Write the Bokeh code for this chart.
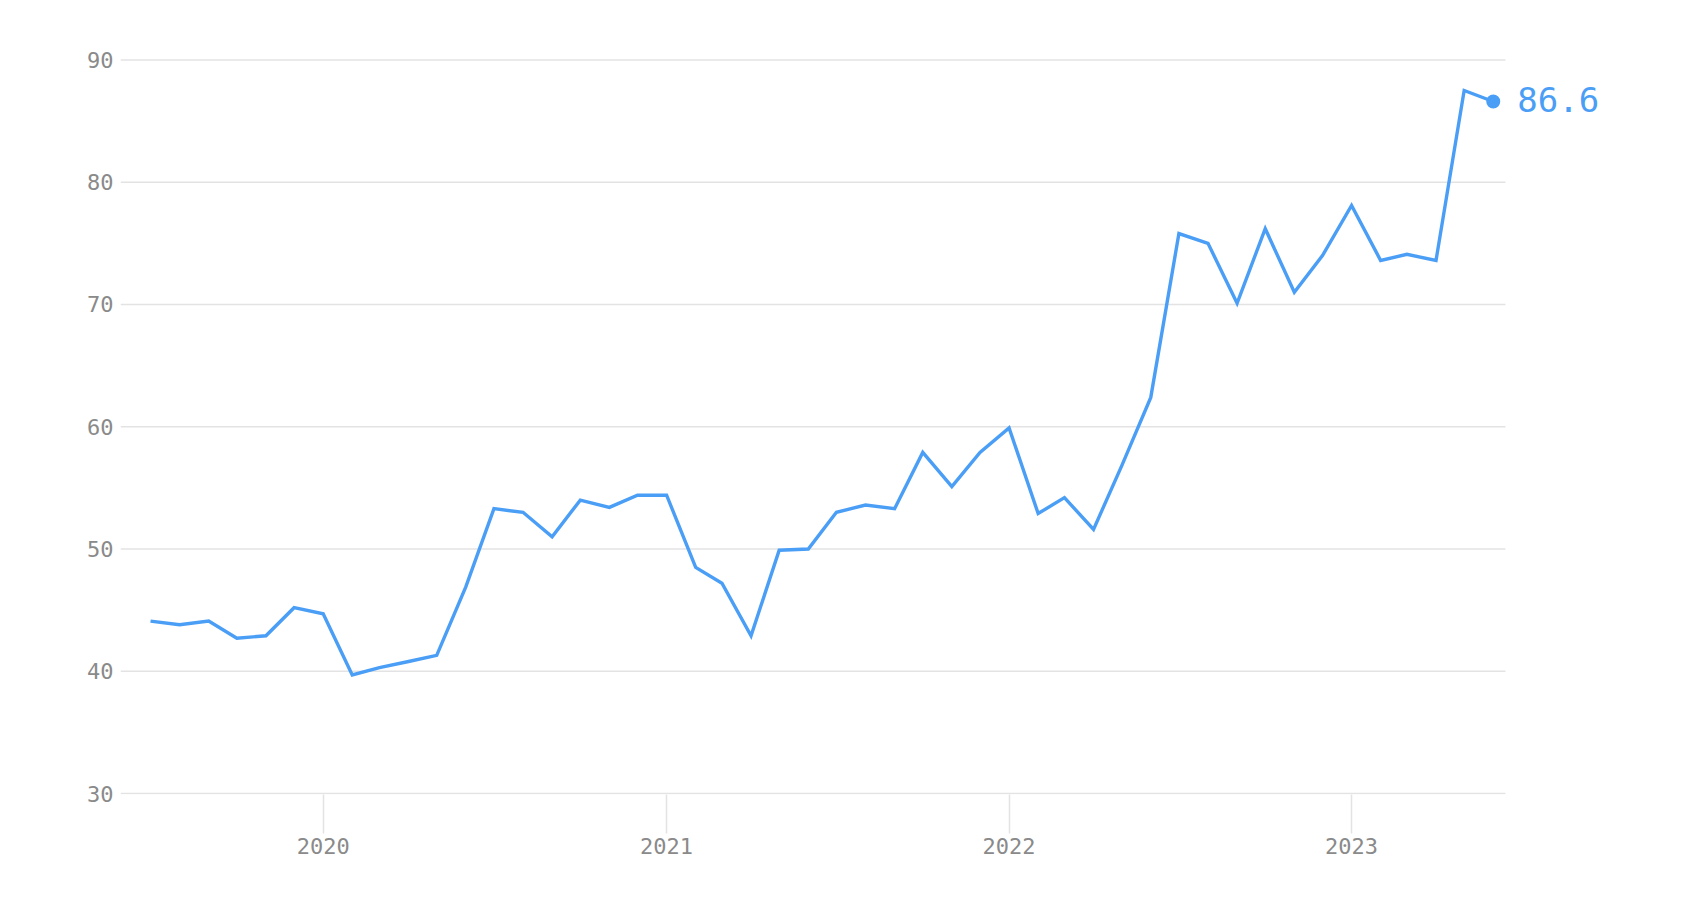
import pandas as pd
from bokeh.plotting import figure
from bokeh.models import Range1d, FixedTicker, ColumnDataSource, CustomJSTickFormatter
from bokeh.core.properties import value
from bokeh.embed import file_html
from bokeh.resources import INLINE

# ---- data ----
start_month = "2019-07-01"
values = [
    44.1, 43.8, 44.1, 42.7, 42.9, 45.2,
    44.7, 39.7, 40.3, 40.8, 41.3, 46.9, 53.3, 53.0, 51.0, 54.0, 53.4, 54.4,
    54.4, 48.5, 47.2, 42.9, 49.9, 50.0, 53.0, 53.6, 53.3, 57.9, 55.1, 57.9,
    59.9, 52.9, 54.2, 51.6, 56.8, 62.4, 75.8, 75.0, 70.1, 76.2, 71.0, 74.0,
    78.1, 73.6, 74.1, 73.6, 87.5, 86.6,
]
months = pd.date_range(start_month, periods=len(values), freq="MS")
tick_years = [2020, 2021, 2022, 2023]
y_ticks = [30, 40, 50, 60, 70, 80, 90]
last_label = "86.6"

x_start = pd.Timestamp("2019-05-30")
grid_end = pd.Timestamp("2023-06-14")
x_end = grid_end + pd.Timedelta(days=175.9)

LINE = "#4a9ef6"
GREY = "#8a8a8a"
GRID = "#e3e3e3"
FONT = "DejaVu Sans Mono"

src = ColumnDataSource(dict(x=months, y=values))
grid_src = ColumnDataSource(dict(
    x0=[x_start] * len(y_ticks), x1=[grid_end] * len(y_ticks), y=y_ticks))
last_src = ColumnDataSource(dict(x=[months[-1]], y=[values[-1]], t=[last_label]))

p = figure(
    width=1680, height=904,
    x_axis_type="datetime",
    x_range=Range1d(x_start, x_end),
    y_range=Range1d(29.92, 92),
    output_backend="svg", toolbar_location=None,
    min_border_left=120, min_border_right=10, min_border_top=35, min_border_bottom=110,
)
p.outline_line_color = None
p.background_fill_color = "white"
p.border_fill_color = "white"

# horizontal grid lines, limited to the data area
p.segment(x0="x0", x1="x1", y0="y", y1="y", source=grid_src,
          line_color=GRID, line_width=1.5)

p.line("x", "y", source=src, line_color=LINE, line_width=3.4, line_join="miter")
p.scatter("x", "y", source=last_src, size=14, fill_color=LINE, line_color=None)
p.text("x", "y", text="t", source=last_src, x_offset=24, y_offset=-2,
       text_baseline="middle", text_align="left",
       text_font_size="34px", text_color=LINE, text_font=value(FONT))

# y axis
p.yaxis.ticker = FixedTicker(ticks=y_ticks)
p.yaxis.axis_line_color = None
p.yaxis.major_tick_line_color = None
p.yaxis.minor_tick_line_color = None
p.yaxis.major_tick_out = 0
p.yaxis.major_tick_in = 0
p.yaxis.major_label_standoff = 7
p.yaxis.major_label_text_font = FONT
p.yaxis.major_label_text_font_size = "22px"
p.yaxis.major_label_text_color = GREY

# x axis
year_ms = [pd.Timestamp(f"{y}-01-01").timestamp() * 1000 for y in tick_years]
p.xaxis.ticker = FixedTicker(ticks=year_ms)
p.xaxis.formatter = CustomJSTickFormatter(code="return new Date(tick).getUTCFullYear().toString();")
p.xaxis.axis_line_color = None
p.xaxis.major_tick_line_color = GRID
p.xaxis.major_tick_line_width = 1.5
p.xaxis.major_tick_out = 39
p.xaxis.major_tick_in = 0
p.xaxis.minor_tick_line_color = None
p.xaxis.major_label_standoff = 4
p.xaxis.major_label_text_font = FONT
p.xaxis.major_label_text_font_size = "22px"
p.xaxis.major_label_text_color = GREY

p.xgrid.grid_line_color = None
p.ygrid.grid_line_color = None

open("out.html", "w").write(file_html(p, INLINE))
